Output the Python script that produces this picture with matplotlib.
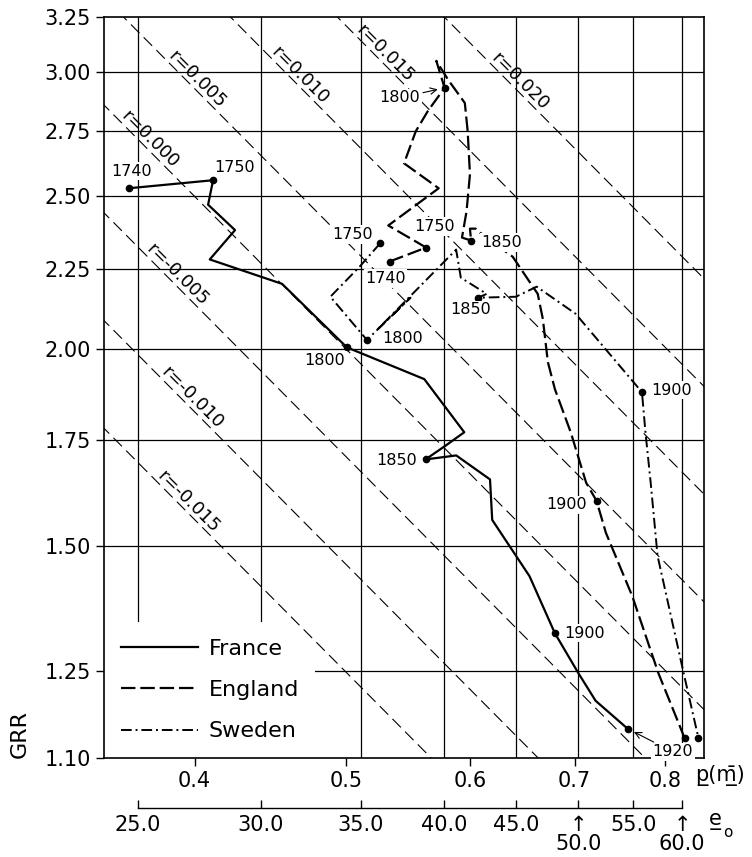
import numpy as np
import matplotlib.pyplot as plt
from matplotlib.ticker import NullLocator, NullFormatter

plt.rcParams['font.family'] = ['DejaVu Sans']

# Données
grr_ticks = [1.10, 1.25, 1.50, 1.75, 2.00, 2.25, 2.50, 2.75, 3.00, 3.25]
p_ticks = [0.4, 0.5, 0.6, 0.7, 0.8]
e0_values = [25.0, 30.0, 35.0, 40.0, 45.0, 50.0, 55.0, 60.0]
e0_p = [0.368, 0.441, 0.511, 0.5775, 0.642, 0.704, 0.763, 0.820]

T = 31.5    # longueur de génération
r_values = [0.020, 0.015, 0.010, 0.005, 0.000, -0.005, -0.010, -0.015]
r_labels = ['r=0.020', 'r=0.015', 'r=0.010', 'r=0.005', 'r=0.000',
            'r=-0.005', 'r=-0.010', 'r=-0.015']
r_label_p = [0.640, 0.525, 0.463, 0.398, 0.371, 0.3865, 0.395, 0.393]

france_p = [0.363, 0.411, 0.408, 0.4245, 0.409, 0.455, 0.5005, 0.561, 0.595,
            0.579, 0.562, 0.588, 0.618, 0.620, 0.655, 0.680, 0.704, 0.722, 0.757]
france_grr = [2.53, 2.56, 2.47, 2.38, 2.28, 2.20, 2.005, 1.914, 1.771,
              1.737, 1.702, 1.712, 1.653, 1.558, 1.435, 1.320, 1.245, 1.196, 1.148]
france_years = ['1740', '1750', '', '', '', '', '1800', '', '',
                '', '1850', '', '', '', '', '1900', '', '', '1920']

england_p = [0.533, 0.5625, 0.532, 0.573, 0.5445, 0.554, 0.564, 0.578, 0.571,
             0.581, 0.5955, 0.598, 0.600, 0.597, 0.593, 0.601, 0.600, 0.605,
             0.609, 0.639, 0.663, 0.668, 0.673, 0.680, 0.696, 0.712, 0.723,
             0.733, 0.762, 0.792, 0.823]
england_grr = [2.273, 2.320, 2.396, 2.530, 2.624, 2.750, 2.833, 2.930, 3.048,
               2.965, 2.866, 2.750, 2.582, 2.446, 2.354, 2.344, 2.385, 2.385,
               2.371, 2.289, 2.168, 2.090, 1.962, 1.886, 1.771, 1.645, 1.602,
               1.529, 1.394, 1.245, 1.133]
england_years = ['1740', '1750', '', '', '', '', '', '1800', '',
                 '', '', '', '', '', '', '1850', '', '',
                 '', '', '', '', '', '', '', '', '1900',
                 '', '', '', '1920']

sweden_p = [0.5256, 0.510, 0.4885, 0.5155, 0.5497, 0.5233, 0.5879, 0.592,
            0.615, 0.607, 0.642, 0.662, 0.701, 0.773, 0.777, 0.783, 0.791,
            0.822, 0.840]
sweden_grr = [2.334, 2.256, 2.159, 2.027, 2.156, 2.057, 2.313, 2.220,
              2.168, 2.156, 2.159, 2.191, 2.106, 1.878, 1.771, 1.645, 1.478,
              1.245, 1.133]
sweden_years = ['1750', '', '', '1800', '', '', '', '',
                '', '1850', '', '', '', '1900', '', '', '',
                '', '1920']

# Décalages des étiquettes (pixels, droite / haut)
france_off = {'1740': (3, 17), '1750': (21, 13), '1800': (-22, -13),
              '1850': (-29, -1), '1900': (30, 0), '1920': (45, -23)}
england_off = {'1740': (-4, -17), '1750': (8, 21), '1800': (-45, -10),
               '1850': (31, -2), '1900': (-30, -4)}
sweden_off = {'1750': (-27, 9), '1800': (36, 1), '1850': (-7, -12),
              '1900': (30, 2)}


def draw_country(ax, p, grr, years, offsets, label, style):
    ax.plot(p, grr, color='k', label=label, zorder=3, **style)
    for i, y in enumerate(years):
        if not y:
            continue
        ax.plot(p[i], grr[i], 'o', ms=4.5, color='k', zorder=4)
        if y not in offsets:
            continue
        dx, dy = offsets[y]
        arrow = None
        if (label, y) in [('England', '1800'), ('France', '1920')]:
            arrow = dict(arrowstyle='->', lw=0.8, color='k', shrinkA=1, shrinkB=5)
        ax.annotate(y, (p[i], grr[i]), xytext=(dx, dy), textcoords='offset pixels',
                    ha='center', va='center', fontsize=11.5, zorder=5,
                    bbox=dict(boxstyle='square,pad=0.1', fc='white', ec='none'),
                    arrowprops=arrow)


fig, ax = plt.subplots(figsize=(7.52, 8.57), dpi=100)
fig.subplots_adjust(left=0.1383, right=0.9362, bottom=0.1155, top=0.9802)

ax.set_xscale('log')
ax.set_yscale('log')
ax.set_xlim(0.35, 0.847)
ax.set_ylim(1.10, 3.25)

ax.set_xticks(p_ticks)
ax.set_xticklabels([f'{v:.1f}' for v in p_ticks])
ax.set_yticks(grr_ticks)
ax.set_yticklabels([f'{v:.2f}' for v in grr_ticks])
for axis in (ax.xaxis, ax.yaxis):
    axis.set_minor_locator(NullLocator())
    axis.set_minor_formatter(NullFormatter())
ax.tick_params(direction='out', length=5.8, width=1.0, labelsize=15, pad=3.5)
for s in ax.spines.values():
    s.set_linewidth(1.2)

# Quadrillage
for p in e0_p:
    ax.axvline(p, color='k', lw=0.9, zorder=1)
for g in grr_ticks[1:-1]:
    ax.axhline(g, color='k', lw=0.9, zorder=1)

# Droites d'égal taux d'accroissement
p_line = np.array([0.3, 0.9])
for r, lab, pl in zip(r_values, r_labels, r_label_p):
    ax.plot(p_line, np.exp(r * T) / p_line, color='k', lw=0.8,
            dashes=(10.8, 5.4), zorder=2)
    ax.annotate(lab, (pl, np.exp(r * T) / pl), xytext=(6, 6),
                textcoords='offset pixels', rotation=-45, rotation_mode='anchor',
                ha='center', va='center', fontsize=13, zorder=5)

draw_country(ax, france_p, france_grr, france_years, france_off, 'France',
             dict(lw=1.6))
draw_country(ax, england_p, england_grr, england_years, england_off, 'England',
             dict(lw=1.6, dashes=(6.5, 2.2)))
draw_country(ax, sweden_p, sweden_grr, sweden_years, sweden_off, 'Sweden',
             dict(lw=1.4, dashes=(5.5, 2, 1, 2)))

leg = ax.legend(loc='lower left', bbox_to_anchor=(0, 0), borderaxespad=0,
                borderpad=0.75, fontsize=16, handlelength=3.5, handletextpad=0.45,
                labelspacing=0.95, frameon=True, fancybox=False, edgecolor='none',
                facecolor='white', framealpha=1)
leg.set_zorder(1.5)

# Axe de l'espérance de vie à la naissance
sec = ax.secondary_xaxis(-0.0675)
sec.xaxis.set_minor_locator(NullLocator())
sec.xaxis.set_minor_formatter(NullFormatter())
sec.set_xticks(e0_p)
e0_lab = []
for v in e0_values:
    if v in (50.0, 60.0):
        e0_lab.append(f'\u2191\n{v:.1f}')
    else:
        e0_lab.append(f'{v:.1f}')
sec.set_xticklabels(e0_lab)
sec.tick_params(direction='in', length=5.8, width=1.0, labelsize=15, pad=5)
for t in sec.get_xticklabels():
    t.set_linespacing(0.95)
sec.spines['bottom'].set_bounds(e0_p[0], e0_p[-1])
sec.spines['bottom'].set_linewidth(1.0)

ax.text(1.027, -0.023, 'p\u0332(m\u0304\u0332)', transform=ax.transAxes,
        ha='center', va='center', fontsize=15)
ax.text(1.018, -0.0837, 'e\u0332', transform=ax.transAxes,
        ha='center', va='center', fontsize=15)
ax.text(1.039, -0.0999, 'o', transform=ax.transAxes,
        ha='center', va='center', fontsize=11)

ax.set_ylabel('GRR', fontsize=16, loc='bottom')
ax.yaxis.set_label_coords(-0.123, 0)

fig.savefig('out.png', dpi=100)
